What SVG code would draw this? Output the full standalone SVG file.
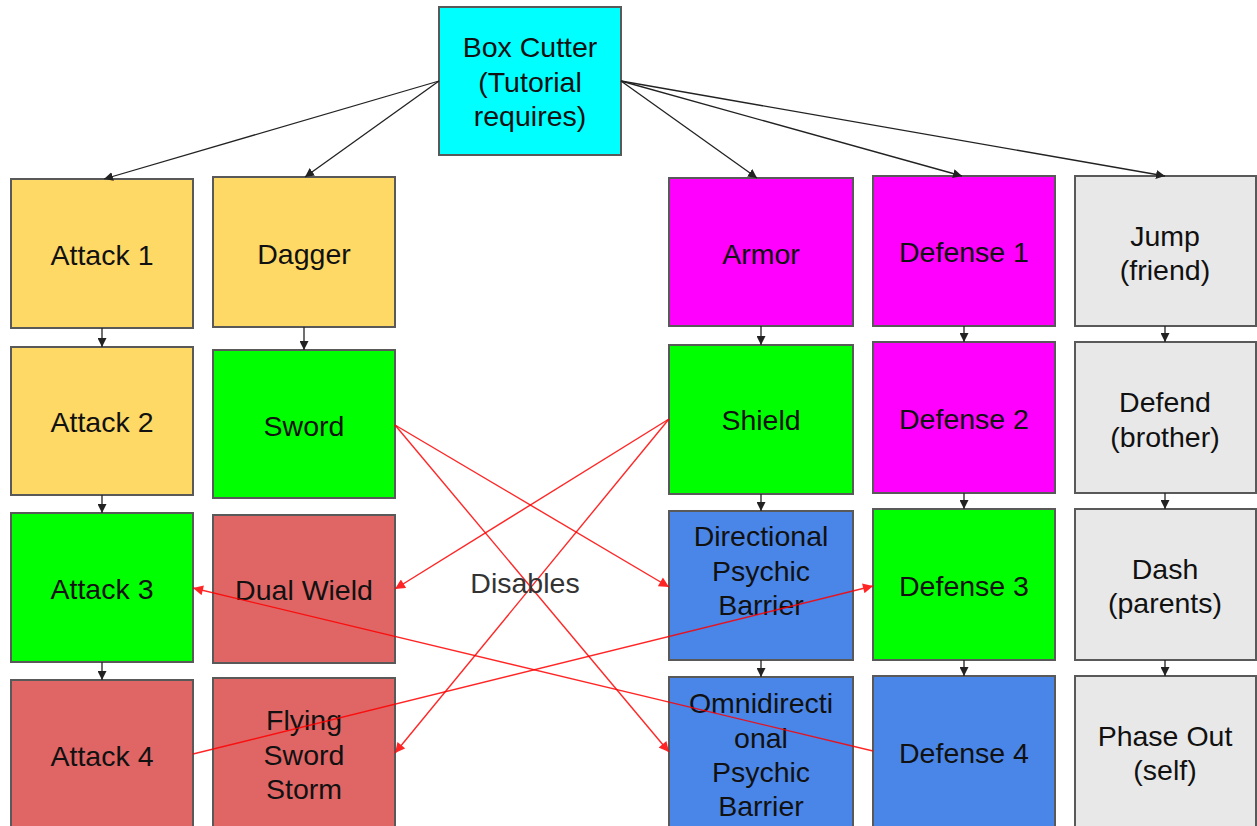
<svg xmlns="http://www.w3.org/2000/svg" width="1257" height="826" viewBox="0 0 1257 826">
<defs>
<marker id="ab" viewBox="0 0 10 10" refX="10" refY="5" markerWidth="9" markerHeight="9" markerUnits="userSpaceOnUse" orient="auto"><path d="M0,0 L10,5 L0,10 z" fill="#222"/></marker>
<marker id="ar" viewBox="0 0 10 10" refX="10" refY="5" markerWidth="11" markerHeight="10" markerUnits="userSpaceOnUse" orient="auto"><path d="M0,0 L10,5 L0,10 z" fill="#ff0000"/></marker>
<style>
.b{stroke:#595959;stroke-width:2}
.y{fill:#ffd966}.g{fill:#00ff00}.r{fill:#e06666}.m{fill:#ff00ff}.bl{fill:#4a86e8}.gr{fill:#e8e8e8}.c{fill:#00ffff}
text{font-family:"Liberation Sans",Arial,sans-serif;font-size:28.5px;fill:#111;text-anchor:middle}
.k{stroke:#222;stroke-width:1.3;fill:none;marker-end:url(#ab)}
.rd{stroke:#ff0000;stroke-width:1.4;fill:none;marker-end:url(#ar);opacity:0.85}
</style>
</defs>
<g id="n-boxcutter"><rect class="b c" x="439" y="7" width="182" height="148"/><text x="530" y="57">Box Cutter</text><text x="530" y="92">(Tutorial</text><text x="530" y="126">requires)</text></g>
<g id="n-attack1"><rect class="b y" x="11" y="179" width="182" height="149"/><text x="102" y="265">Attack 1</text></g>
<g id="n-attack2"><rect class="b y" x="11" y="347" width="182" height="148"/><text x="102" y="432">Attack 2</text></g>
<g id="n-attack3"><rect class="b g" x="11" y="513" width="182" height="149"/><text x="102" y="599">Attack 3</text></g>
<g id="n-attack4"><rect class="b r" x="11" y="680" width="182" height="149"/><text x="102" y="766">Attack 4</text></g>
<g id="n-dagger"><rect class="b y" x="213" y="177" width="182" height="150"/><text x="304" y="264">Dagger</text></g>
<g id="n-sword"><rect class="b g" x="213" y="350" width="182" height="148"/><text x="304" y="436">Sword</text></g>
<g id="n-dualwield"><rect class="b r" x="213" y="515" width="182" height="148"/><text x="304" y="600">Dual Wield</text></g>
<g id="n-flying"><rect class="b r" x="213" y="678" width="182" height="150"/><text x="304" y="730">Flying</text><text x="304" y="765">Sword</text><text x="304" y="799">Storm</text></g>
<g id="n-armor"><rect class="b m" x="669" y="178" width="184" height="148"/><text x="761" y="264">Armor</text></g>
<g id="n-shield"><rect class="b g" x="669" y="345" width="184" height="149"/><text x="761" y="430">Shield</text></g>
<g id="n-directional"><rect class="b bl" x="669" y="511" width="184" height="149"/><text x="761" y="546">Directional</text><text x="761" y="581">Psychic</text><text x="761" y="615">Barrier</text></g>
<g id="n-omni"><rect class="b bl" x="669" y="677" width="184" height="150"/><text x="761" y="713">Omnidirecti</text><text x="761" y="748">onal</text><text x="761" y="782">Psychic</text><text x="761" y="816">Barrier</text></g>
<g id="n-defense1"><rect class="b m" x="873" y="176" width="182" height="150"/><text x="964" y="262">Defense 1</text></g>
<g id="n-defense2"><rect class="b m" x="873" y="342" width="182" height="151"/><text x="964" y="429">Defense 2</text></g>
<g id="n-defense3"><rect class="b g" x="873" y="509" width="182" height="151"/><text x="964" y="596">Defense 3</text></g>
<g id="n-defense4"><rect class="b bl" x="873" y="676" width="182" height="151"/><text x="964" y="763">Defense 4</text></g>
<g id="n-jump"><rect class="b gr" x="1075" y="176" width="181" height="150"/><text x="1165" y="246">Jump</text><text x="1165" y="280">(friend)</text></g>
<g id="n-defend"><rect class="b gr" x="1075" y="342" width="181" height="151"/><text x="1165" y="412">Defend</text><text x="1165" y="447">(brother)</text></g>
<g id="n-dash"><rect class="b gr" x="1075" y="509" width="181" height="151"/><text x="1165" y="579">Dash</text><text x="1165" y="613">(parents)</text></g>
<g id="n-phase"><rect class="b gr" x="1075" y="676" width="181" height="151"/><text x="1165" y="746">Phase Out</text><text x="1165" y="780">(self)</text></g>
<g id="connectors">
<line class="k" x1="439" y1="81" x2="104" y2="179"/>
<line class="k" x1="439" y1="81" x2="305" y2="177"/>
<line class="k" x1="621" y1="81" x2="757" y2="178"/>
<line class="k" x1="621" y1="81" x2="962" y2="176"/>
<line class="k" x1="621" y1="81" x2="1165" y2="176"/>
<line class="k" x1="102" y1="328" x2="102" y2="347"/>
<line class="k" x1="102" y1="495" x2="102" y2="513"/>
<line class="k" x1="102" y1="662" x2="102" y2="680"/>
<line class="k" x1="304" y1="327" x2="304" y2="350"/>
<line class="k" x1="761" y1="326" x2="761" y2="345"/>
<line class="k" x1="761" y1="494" x2="761" y2="511"/>
<line class="k" x1="761" y1="660" x2="761" y2="677"/>
<line class="k" x1="964" y1="326" x2="964" y2="342"/>
<line class="k" x1="964" y1="493" x2="964" y2="509"/>
<line class="k" x1="964" y1="660" x2="964" y2="676"/>
<line class="k" x1="1165" y1="326" x2="1165" y2="342"/>
<line class="k" x1="1165" y1="493" x2="1165" y2="509"/>
<line class="k" x1="1165" y1="660" x2="1165" y2="676"/>
<line class="rd" x1="395" y1="425" x2="669" y2="587"/>
<line class="rd" x1="395" y1="425" x2="669" y2="752"/>
<line class="rd" x1="669" y1="419" x2="395" y2="589"/>
<line class="rd" x1="669" y1="419" x2="395" y2="753"/>
<line class="rd" x1="873" y1="751" x2="193" y2="588"/>
<line class="rd" x1="193" y1="754" x2="873" y2="586"/>
<text x="525" y="593" style="fill:#333">Disables</text>
</g>
</svg>
